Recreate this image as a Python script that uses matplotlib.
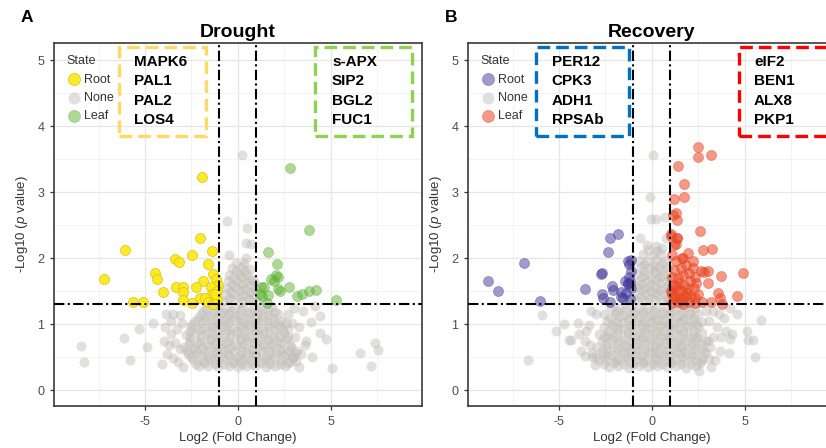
import numpy as np
import matplotlib.pyplot as plt
from matplotlib.patches import Rectangle

plt.rcParams['font.family'] = ['Liberation Sans', 'DejaVu Sans']
plt.rcParams['mathtext.fontset'] = 'custom'
plt.rcParams['mathtext.rm'] = 'Liberation Sans'
plt.rcParams['mathtext.it'] = 'Liberation Sans:italic'
plt.rcParams['axes.unicode_minus'] = False


## data (log2 fold change, -log10 p)

# Drought
a_root = [(-1.94, 3.23), (-6.10, 2.13), (-2.05, 2.30), (-1.37, 2.11), (-2.48, 2.05),
          (-3.41, 1.98), (-3.19, 1.94), (-1.59, 1.91), (-7.22, 1.69), (-4.44, 1.78),
          (-4.37, 1.68), (-1.87, 1.66), (-1.34, 1.76), (-1.20, 1.68), (-1.07, 1.60),
          (-3.33, 1.57), (-2.98, 1.57), (-2.23, 1.56), (-4.01, 1.48), (-2.94, 1.48),
          (-1.46, 1.56), (-1.41, 1.45), (-2.94, 1.37), (-2.46, 1.32), (-2.05, 1.39),
          (-1.75, 1.39), (-1.62, 1.33), (-1.34, 1.31), (-1.13, 1.36), (-5.62, 1.33),
          (-5.12, 1.33), (-1.10, 1.50), (-1.25, 1.45)]

a_leaf = [(2.81, 3.37), (3.85, 2.43), (1.60, 2.10), (2.10, 1.91), (2.05, 1.74),
          (2.14, 1.71), (1.81, 1.68), (1.92, 1.65), (2.74, 1.56), (1.25, 1.57),
          (1.39, 1.56), (2.14, 1.53), (2.28, 1.50), (3.17, 1.42), (3.44, 1.45),
          (3.85, 1.50), (4.22, 1.52), (5.31, 1.36), (1.21, 1.45), (1.28, 1.42),
          (1.60, 1.44), (1.57, 1.32)]

a_none = [
    (-2.1, 0.36), (-1.6, 0.37), (-1.05, 0.35), (-0.5, 0.36), (0.0, 0.35), (0.45, 0.37),
    (0.95, 0.36), (1.5, 0.35), (2.0, 0.37), (2.55, 0.36),
    (-2.25, 0.40), (-1.75, 0.41), (-1.25, 0.39), (-0.75, 0.40), (-0.25, 0.41), (0.25, 0.39),
    (0.75, 0.40), (1.25, 0.41), (1.75, 0.39), (2.25, 0.40), (2.7, 0.41),
    (-2.4, 0.46), (-1.85, 0.44), (-1.3, 0.45), (-0.8, 0.47), (-0.25, 0.44), (0.2, 0.46),
    (0.7, 0.45), (1.2, 0.44), (1.75, 0.46), (2.3, 0.45), (2.8, 0.43),
    (-2.5, 0.50), (-2.0, 0.51), (-1.5, 0.49), (-1.0, 0.50), (-0.5, 0.51), (0.0, 0.49),
    (0.5, 0.50), (1.0, 0.51), (1.5, 0.49), (2.0, 0.50), (2.5, 0.51), (2.95, 0.49),
    (-2.7, 0.55), (-2.2, 0.56), (-1.6, 0.54), (-1.1, 0.56), (-0.55, 0.55), (0.05, 0.54),
    (0.5, 0.56), (1.0, 0.55), (1.55, 0.53), (2.05, 0.56), (2.6, 0.55), (3.1, 0.57),
    (-2.75, 0.60), (-2.25, 0.61), (-1.75, 0.59), (-1.25, 0.60), (-0.75, 0.61), (-0.25, 0.59),
    (0.25, 0.60), (0.75, 0.61), (1.25, 0.59), (1.75, 0.60), (2.25, 0.61), (2.75, 0.59),
    (-2.9, 0.66), (-2.35, 0.64), (-1.85, 0.65), (-1.35, 0.66), (-0.8, 0.64), (-0.3, 0.66),
    (0.25, 0.65), (0.75, 0.63), (1.3, 0.66), (1.8, 0.65), (2.35, 0.64), (2.85, 0.66),
    (-2.65, 0.70), (-2.15, 0.71), (-1.65, 0.69), (-1.15, 0.70), (-0.65, 0.71), (-0.15, 0.69),
    (0.35, 0.70), (0.85, 0.71), (1.35, 0.69), (1.85, 0.70), (2.35, 0.71), (2.8, 0.69),
    (-2.6, 0.75), (-2.05, 0.74), (-1.5, 0.76), (-0.95, 0.75), (-0.45, 0.74), (0.1, 0.76),
    (0.6, 0.75), (1.1, 0.74), (1.6, 0.76), (2.1, 0.75), (2.6, 0.77),
    (-2.55, 0.80), (-2.0, 0.81), (-1.45, 0.79), (-0.95, 0.80), (-0.4, 0.81), (0.15, 0.79),
    (0.65, 0.80), (1.15, 0.81), (1.65, 0.79), (2.2, 0.80), (2.7, 0.81),
    (-2.8, 0.84), (-2.25, 0.86), (-1.7, 0.85), (-1.2, 0.84), (-0.65, 0.86), (-0.1, 0.85),
    (0.4, 0.84), (0.9, 0.86), (1.4, 0.85), (1.95, 0.84), (2.5, 0.86),
    (-2.6, 0.90), (-2.1, 0.91), (-1.6, 0.89), (-1.1, 0.90), (-0.6, 0.91), (-0.1, 0.89),
    (0.4, 0.90), (0.9, 0.91), (1.4, 0.89), (1.95, 0.90), (2.45, 0.91),
    (-2.5, 0.95), (-1.95, 0.94), (-1.4, 0.96), (-0.9, 0.95), (-0.35, 0.94), (0.15, 0.96),
    (0.65, 0.95), (1.15, 0.94), (1.7, 0.96), (2.2, 0.95), (2.7, 0.93),
    (-2.45, 1.00), (-1.95, 1.01), (-1.45, 0.99), (-0.95, 1.00), (-0.45, 1.01), (0.1, 0.99),
    (0.6, 1.00), (1.1, 1.01), (1.6, 0.99), (2.15, 1.00), (2.6, 1.01),
    (-2.3, 1.05), (-1.75, 1.06), (-1.2, 1.04), (-0.7, 1.05), (-0.15, 1.06), (0.35, 1.04),
    (0.85, 1.05), (1.35, 1.06), (1.9, 1.04), (2.4, 1.05),
    (-2.15, 1.10), (-1.6, 1.11), (-1.1, 1.09), (-0.6, 1.10), (-0.1, 1.11), (0.4, 1.09),
    (0.9, 1.10), (1.4, 1.11), (1.9, 1.09),
    (-2.0, 1.15), (-1.45, 1.14), (-0.95, 1.16), (-0.45, 1.15), (0.05, 1.14), (0.55, 1.16),
    (1.05, 1.15), (1.6, 1.14), (2.15, 1.16),
    (-1.85, 1.20), (-1.35, 1.21), (-0.85, 1.19), (-0.35, 1.20), (0.15, 1.21), (0.65, 1.19),
    (1.15, 1.20), (1.6, 1.21), (2.0, 1.19),
    (-1.7, 1.24), (-1.2, 1.26), (-0.7, 1.25), (-0.2, 1.24), (0.3, 1.26), (0.8, 1.25),
    (1.3, 1.24), (1.85, 1.26),
    (-0.85, 1.35), (-0.35, 1.36), (0.15, 1.34), (0.6, 1.36), (1.05, 1.35),
    (-0.5, 1.40), (0.05, 1.41), (0.55, 1.39),
    (-0.7, 1.45), (-0.2, 1.46), (0.3, 1.44), (0.8, 1.45),
    (-0.35, 1.50), (0.15, 1.51), (0.65, 1.49),
    (-0.6, 1.55), (-0.1, 1.56), (0.4, 1.54), (0.9, 1.55),
    (-0.3, 1.60), (0.2, 1.61), (0.65, 1.59),
    (-0.55, 1.65), (-0.05, 1.66), (0.45, 1.64), (0.85, 1.65),
    (-0.25, 1.70), (0.25, 1.71), (0.7, 1.69),
    (-0.45, 1.75), (0.05, 1.76), (0.5, 1.74),
    (-0.1, 1.80), (0.4, 1.81),
    (-0.3, 1.85), (0.2, 1.86), (0.65, 1.84), (-0.1, 1.93), (0.35, 1.92),
    # spread around the cloud
    (-8.42, 0.67), (-8.29, 0.43), (-6.15, 0.79), (-5.83, 0.46), (-5.30, 0.93),
    (-4.90, 0.66), (-4.58, 1.01), (-3.85, 1.16), (-3.49, 1.16), (-3.13, 1.14),
    (-3.9, 0.95), (-3.6, 0.85), (-3.3, 0.92), (-4.0, 0.75), (-3.7, 0.68), (-3.4, 0.72),
    (-3.1, 0.62), (-3.8, 0.55), (-3.5, 0.48), (-3.2, 0.42), (-4.1, 0.40), (-2.95, 0.35),
    (-3.6, 1.05), (-3.0, 1.02),
    (2.90, 1.01), (3.30, 0.95), (3.12, 0.44), (3.65, 0.75), (3.62, 0.68), (3.92, 1.03),
    (4.15, 1.28), (4.42, 1.12), (4.42, 0.86), (4.72, 0.77), (4.01, 0.50), (3.2, 0.60),
    (3.4, 0.55), (2.95, 0.50), (3.1, 0.80), (3.5, 1.20), (2.7, 1.15), (3.0, 1.25),
    (3.3, 0.35), (5.08, 0.33), (6.56, 0.57), (7.18, 0.37), (7.40, 0.71), (7.54, 0.61),
    (0.22, 3.56), (-0.57, 2.57), (0.48, 2.46), (0.45, 2.23), (0.72, 2.21), (0.44, 2.00),
    (-0.45, 2.05)]

# Recovery
b_root = [(-8.84, 1.66), (-8.30, 1.50), (-6.86, 1.93), (-6.02, 1.35), (-3.58, 1.53),
          (-2.73, 1.76), (-2.67, 1.78), (-2.37, 2.09), (-2.28, 2.30), (-1.80, 2.36),
          (-2.67, 1.45), (-2.64, 1.39), (-2.14, 1.58), (-2.28, 1.33), (-1.66, 1.48),
          (-1.57, 1.40), (-1.44, 1.66), (-1.30, 1.61), (-1.21, 1.71), (-1.12, 1.81),
          (-1.21, 1.91), (-1.12, 1.97), (-1.30, 1.96), (-1.16, 1.38), (-1.16, 1.64),
          (-1.28, 1.62), (-1.10, 1.55), (-1.64, 1.41), (-1.37, 1.47), (-2.09, 1.52)]

b_leaf = [(2.50, 3.69), (2.48, 3.53), (3.21, 3.57), (1.43, 3.40), (1.75, 3.13),
          (1.71, 2.93), (1.21, 2.89), (1.30, 2.69), (1.34, 2.58), (1.12, 2.65),
          (2.59, 2.41), (1.04, 2.34), (1.34, 2.30), (1.05, 2.36), (1.37, 2.31),
          (1.28, 2.21), (1.21, 2.20), (2.73, 2.12), (3.23, 2.14), (1.93, 2.08),
          (1.66, 2.00), (2.19, 1.96), (3.05, 1.81), (2.82, 1.79), (2.62, 1.81),
          (3.71, 1.73), (4.90, 1.78), (3.05, 1.63), (3.58, 1.47), (4.57, 1.43),
          (3.18, 1.34), (3.80, 1.31), (3.69, 1.39), (2.35, 1.40), (2.71, 1.33),
          (1.10, 1.32), (1.40, 1.33), (1.70, 1.31), (2.00, 1.34), (2.30, 1.32),
          (1.20, 1.42), (1.50, 1.40), (1.80, 1.43), (2.10, 1.41), (2.50, 1.45),
          (1.05, 1.50), (1.35, 1.52), (1.65, 1.50), (1.95, 1.53), (2.25, 1.55),
          (1.15, 1.60), (1.45, 1.62), (1.75, 1.60), (2.05, 1.65), (2.40, 1.62),
          (1.10, 1.72), (1.40, 1.70), (1.70, 1.75), (2.00, 1.78), (2.30, 1.72),
          (1.20, 1.82), (1.55, 1.85), (1.85, 1.90), (2.20, 1.85), (1.30, 1.95),
          (1.60, 2.00), (1.10, 2.05), (1.25, 1.38), (1.60, 1.36), (1.90, 1.47),
          (1.30, 1.58), (1.08, 1.45)]

b_none = [
    (-2.3, 0.35), (-1.8, 0.36), (-1.25, 0.34), (-0.7, 0.36), (-0.2, 0.35), (0.3, 0.37),
    (0.8, 0.35), (1.3, 0.36), (1.85, 0.34), (2.4, 0.36),
    (-2.55, 0.40), (-2.05, 0.41), (-1.5, 0.39), (-1.0, 0.40), (-0.45, 0.41), (0.05, 0.39),
    (0.55, 0.40), (1.05, 0.41), (1.55, 0.39), (2.1, 0.40), (2.6, 0.41),
    (-2.9, 0.45), (-2.45, 0.46), (-1.95, 0.44), (-1.45, 0.45), (-0.9, 0.46), (-0.4, 0.44),
    (0.1, 0.45), (0.6, 0.46), (1.1, 0.44), (1.6, 0.45), (2.1, 0.46), (2.65, 0.44), (3.1, 0.47),
    (-3.0, 0.50), (-2.4, 0.51), (-1.85, 0.49), (-1.35, 0.50), (-0.85, 0.51), (-0.35, 0.49),
    (0.15, 0.50), (0.65, 0.51), (1.15, 0.49), (1.65, 0.50), (2.15, 0.51), (2.7, 0.49),
    (-3.2, 0.56), (-2.65, 0.55), (-2.15, 0.54), (-1.6, 0.56), (-1.1, 0.55), (-0.6, 0.54),
    (-0.1, 0.56), (0.4, 0.55), (0.9, 0.54), (1.4, 0.56), (1.9, 0.55), (2.4, 0.54), (2.9, 0.56),
    (-2.7, 0.60), (-2.2, 0.61), (-1.7, 0.59), (-1.2, 0.60), (-0.7, 0.61), (-0.2, 0.59),
    (0.3, 0.60), (0.8, 0.61), (1.3, 0.59), (1.8, 0.60), (2.3, 0.61), (2.8, 0.59),
    (-2.95, 0.65), (-2.4, 0.66), (-1.9, 0.64), (-1.35, 0.65), (-0.85, 0.66), (-0.35, 0.64),
    (0.15, 0.65), (0.65, 0.66), (1.15, 0.64), (1.65, 0.65), (2.15, 0.66), (2.65, 0.64), (3.15, 0.66),
    (-2.45, 0.70), (-1.9, 0.71), (-1.4, 0.69), (-0.85, 0.70), (-0.35, 0.71), (0.15, 0.69),
    (0.65, 0.70), (1.15, 0.71), (1.65, 0.69), (2.15, 0.70), (2.65, 0.71),
    (-2.7, 0.75), (-2.15, 0.76), (-1.65, 0.74), (-1.1, 0.75), (-0.6, 0.76), (-0.1, 0.74),
    (0.4, 0.75), (0.9, 0.76), (1.4, 0.74), (1.9, 0.75), (2.4, 0.76), (2.9, 0.74),
    (-2.6, 0.80), (-2.1, 0.81), (-1.55, 0.79), (-1.05, 0.80), (-0.55, 0.81), (-0.05, 0.79),
    (0.45, 0.80), (0.95, 0.81), (1.45, 0.79), (1.95, 0.80), (2.45, 0.81),
    (-2.85, 0.85), (-2.35, 0.84), (-1.85, 0.86), (-1.3, 0.85), (-0.8, 0.84), (-0.3, 0.86),
    (0.2, 0.85), (0.7, 0.84), (1.2, 0.86), (1.7, 0.85), (2.2, 0.84), (2.7, 0.86),
    (-2.35, 0.90), (-1.8, 0.91), (-1.3, 0.89), (-0.8, 0.90), (-0.3, 0.91), (0.2, 0.89),
    (0.7, 0.90), (1.2, 0.91), (1.7, 0.89), (2.25, 0.90),
    (-2.6, 0.95), (-2.05, 0.96), (-1.55, 0.94), (-1.05, 0.95), (-0.55, 0.96), (-0.05, 0.94),
    (0.45, 0.95), (0.95, 0.96), (1.45, 0.94), (1.95, 0.95), (2.5, 0.96),
    (-2.15, 1.00), (-1.6, 1.01), (-1.1, 0.99), (-0.55, 1.00), (-0.05, 1.01), (0.45, 0.99),
    (0.95, 1.00), (1.45, 1.01), (1.95, 0.99), (2.45, 1.00),
    (-2.4, 1.05), (-1.85, 1.04), (-1.3, 1.06), (-0.8, 1.05), (-0.3, 1.04), (0.2, 1.06),
    (0.7, 1.05), (1.2, 1.04), (1.7, 1.06), (2.2, 1.05), (2.7, 1.04),
    (-2.25, 1.10), (-1.75, 1.11), (-1.25, 1.09), (-0.75, 1.10), (-0.25, 1.11), (0.25, 1.09),
    (0.75, 1.10), (1.25, 1.11), (1.75, 1.09), (2.25, 1.10),
    (-2.55, 1.15), (-2.0, 1.16), (-1.5, 1.14), (-1.0, 1.15), (-0.5, 1.16), (0.0, 1.14),
    (0.5, 1.15), (1.0, 1.16), (1.5, 1.14), (2.0, 1.15), (2.5, 1.16),
    (-1.95, 1.20), (-1.45, 1.21), (-0.95, 1.19), (-0.45, 1.20), (0.05, 1.21), (0.55, 1.19),
    (1.05, 1.20), (1.55, 1.21), (2.05, 1.19),
    (-2.2, 1.25), (-1.7, 1.24), (-1.2, 1.26), (-0.7, 1.25), (-0.2, 1.24), (0.3, 1.26),
    (0.8, 1.25), (1.3, 1.24), (1.8, 1.26), (2.3, 1.25),
    (-0.9, 1.36), (-0.4, 1.35), (0.1, 1.37), (0.55, 1.35), (0.95, 1.36),
    (-0.65, 1.41), (-0.15, 1.40), (0.35, 1.42), (0.8, 1.40),
    (-0.75, 1.46), (-0.25, 1.45), (0.25, 1.47), (0.75, 1.45),
    (-0.55, 1.51), (-0.05, 1.50), (0.45, 1.52), (0.9, 1.50),
    (-0.85, 1.56), (-0.35, 1.55), (0.15, 1.57), (0.65, 1.55),
    (-0.6, 1.61), (-0.1, 1.60), (0.4, 1.62), (0.85, 1.60),
    (-0.7, 1.66), (-0.2, 1.65), (0.3, 1.67), (0.8, 1.65),
    (-0.55, 1.71), (-0.05, 1.70), (0.45, 1.72), (0.9, 1.70),
    (-0.85, 1.76), (-0.35, 1.75), (0.15, 1.77), (0.6, 1.75),
    (-0.4, 1.81), (0.1, 1.80), (0.6, 1.82),
    (-0.6, 1.86), (-0.1, 1.85), (0.4, 1.87), (0.85, 1.85),
    (-0.4, 1.91), (0.1, 1.90), (0.55, 1.92),
    (-0.75, 1.96), (-0.25, 1.95), (0.25, 1.97), (0.7, 1.95),
    (-0.45, 2.06), (0.05, 2.05), (0.5, 2.07), (-0.2, 2.12), (0.3, 2.11),
    (-0.62, 2.31), (-0.25, 2.20), (0.2, 2.18), (0.55, 2.15), (0.75, 2.30),
    (-0.05, 2.60), (0.21, 2.60), (0.69, 2.63), (-0.11, 2.92), (0.04, 3.57),
    # spread around the cloud
    (-6.65, 0.45), (-5.17, 0.89), (-4.74, 1.00), (-4.46, 0.76), (-5.92, 1.14),
    (-3.9, 0.85), (-3.55, 0.90), (-3.6, 0.74), (-3.2, 0.50), (-3.6, 0.52), (-4.35, 0.76),
    (-3.3, 1.20), (-3.0, 1.15), (-3.8, 0.60), (-3.35, 0.68), (-3.05, 0.38), (-4.0, 1.02),
    (-3.4, 0.98),
    (5.88, 1.07), (5.56, 0.50), (5.11, 0.89), (5.20, 0.76), (5.46, 0.76), (4.58, 1.15),
    (4.22, 0.77), (4.14, 0.57), (3.87, 1.10), (3.69, 0.60), (2.53, 0.29), (3.3, 1.20),
    (3.5, 0.95), (3.3, 0.80), (3.4, 0.45), (4.0, 0.90), (3.1, 1.05), (4.3, 0.85),
    (3.7, 0.80), (3.6, 1.15), (2.9, 1.20), (3.2, 0.35), (4.2, 1.25), (3.0, 0.75)]

a_root_genes = ['MAPK6', 'PAL1', 'PAL2', 'LOS4']
a_leaf_genes = ['s-APX', 'SIP2', 'BGL2', 'FUC1']
b_root_genes = ['PER12', 'CPK3', 'ADH1', 'RPSAb']
b_leaf_genes = ['eIF2', 'BEN1', 'ALX8', 'PKP1']

fc_cut = 1
p_cut = -np.log10(0.05)


fig = plt.figure(figsize=(8.26, 4.48), dpi=100)

W = 826
H = 448
ax_w = 367.7 / W
ax_h = 363 / H
ax_y = 1 - 406 / H
ax01 = fig.add_axes([54 / W, ax_y, ax_w, ax_h])
ax02 = fig.add_axes([468 / W, ax_y, ax_w, ax_h])


def volcano(ax, root, none, leaf, root_col, leaf_col, title):
    rx, ry = np.array(root).T
    nx, ny = np.array(none).T
    lx, ly = np.array(leaf).T

    h_none = ax.scatter(nx, ny, s=52, color='#C0BBB6', alpha=0.45, linewidths=0, zorder=2)
    h_root = ax.scatter(rx, ry, s=52, color=root_col[0], alpha=root_col[1],
                        edgecolors=root_col[2], linewidths=0.5, zorder=2.5)
    h_leaf = ax.scatter(lx, ly, s=52, color=leaf_col[0], alpha=leaf_col[1],
                        edgecolors=leaf_col[2], linewidths=0.5, zorder=2.5)

    dash = (0, (5, 1.6, 1, 1.6))
    ax.axvline(-fc_cut, color='black', lw=1.5, ls=dash, zorder=3)
    ax.axvline(fc_cut, color='black', lw=1.5, ls=dash, zorder=3)
    ax.axhline(p_cut, color='black', lw=1.5, ls=dash, zorder=3)

    ax.set_xlim(-9.9, 9.9)
    ax.set_ylim(-0.24, 5.26)
    ax.set_xticks([-5, 0, 5])
    ax.set_xticks([-7.5, -2.5, 2.5, 7.5], minor=True)
    ax.set_yticks([0, 1, 2, 3, 4, 5])
    ax.set_yticks([0.5, 1.5, 2.5, 3.5, 4.5], minor=True)
    ax.grid(which='major', color='#E6E6E6', lw=0.9, zorder=0)
    ax.grid(which='minor', color='#F1F1F1', lw=0.6, zorder=0)
    ax.set_axisbelow(True)
    ax.tick_params(which='major', length=3, width=0.9, color='#333333',
                   labelsize=9, labelcolor='#4D4D4D', pad=4)
    ax.tick_params(which='minor', length=0)
    for sp in ax.spines.values():
        sp.set_color('#3A3A3A')
        sp.set_linewidth(1.2)

    ax.set_xlabel('Log2 (Fold Change)', fontsize=9.5, color='#333333', labelpad=3)
    ax.set_ylabel(r'-Log10 ($\mathit{p}$ value)', fontsize=9.5, color='#333333', labelpad=5)
    ax.set_title(title, fontsize=14, fontweight='bold', pad=4)

    leg = ax.legend([h_root, h_none, h_leaf], ['Root', 'None', 'Leaf'], title='State',
                    loc='upper left', bbox_to_anchor=(0.0, 1.0), frameon=False,
                    fontsize=9, title_fontsize=9, handletextpad=0.2, labelspacing=0.5,
                    handlelength=1.2, borderpad=0.5, markerscale=1.2)
    leg._legend_box.align = 'left'
    for t in leg.get_texts():
        t.set_color('#333333')
    leg.get_title().set_color('#333333')
    return ax


def gene_box(ax, x0, x1, genes, col, tx):
    ax.add_patch(Rectangle((x0, 0.744), x1 - x0, 0.245, transform=ax.transAxes,
                           fill=False, edgecolor=col, lw=2.4, ls=(0, (3.8, 1.8)),
                           clip_on=False, zorder=4))
    for i, g in enumerate(genes):
        ax.text(tx, 0.948 - i * 0.0537, g, transform=ax.transAxes, fontsize=11,
                fontweight='bold', ha='left', va='center', zorder=5)


volcano(ax01, a_root, a_none, a_leaf,
        ('#FBE91B', 0.95, '#D9BE12'), ('#5DB233', 0.5, '#5DB233'), 'Drought')
volcano(ax02, b_root, b_none, b_leaf,
        ('#43399A', 0.5, '#43399A'), ('#EA4523', 0.55, '#EA4523'), 'Recovery')

gene_box(ax01, 0.177, 0.413, a_root_genes, '#FFD966', 0.218)
gene_box(ax01, 0.710, 0.974, a_leaf_genes, '#92D050', 0.756)
gene_box(ax02, 0.185, 0.438, b_root_genes, '#0070C0', 0.228)
gene_box(ax02, 0.737, 0.990, b_leaf_genes, '#FF0000', 0.778)

fig.text(27 / W, 1 - 18 / H, 'A', fontsize=12.5, fontweight='bold', ha='center', va='center')
fig.text(451 / W, 1 - 18 / H, 'B', fontsize=12.5, fontweight='bold', ha='center', va='center')

plt.savefig('out.png', dpi=100)
